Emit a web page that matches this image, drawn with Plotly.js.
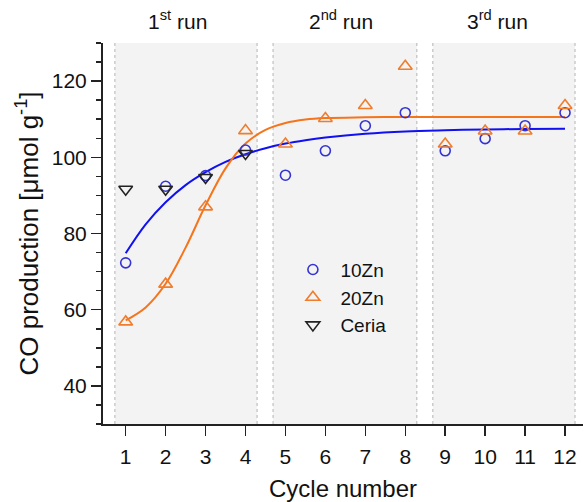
<!DOCTYPE html>
<html><head><meta charset="utf-8">
<script src="https://cdn.plot.ly/plotly-3.0.1.min.js"></script>
<style>html,body{margin:0;padding:0;background:#fff}#chart{width:584px;height:502px}</style>
</head><body><div id="chart"></div>
<script>
// ---- data ----
const cycles = [1,2,3,4,5,6,7,8,9,10,11,12];
const zn10 = [72.3,92.4,95.2,101.9,95.3,101.7,108.3,111.7,101.7,104.9,108.3,111.7];
const zn20 = [56.8,66.7,87.0,107.0,103.5,110.2,113.6,123.9,103.5,106.9,106.9,113.6];
const ceriaCycles = [1,2,3,4];
const ceria = [91.6,91.6,94.7,101.0];
// fitted curves
const fitX  = [1,1.5,2,2.5,3,3.5,4,4.5,5,5.5,6,7,8,9,10,11,12];
const fit10 = [74.8,82.4,88.2,92.7,96.1,98.8,100.8,102.4,103.6,104.5,105.2,106.2,106.8,107.1,107.3,107.45,107.5];
const fit20 = [57.2,60.6,66.8,76.3,87.4,97.1,103.6,107.2,109.0,109.9,110.3,110.5,110.6,110.6,110.6,110.6,110.6];
const xTicks = [1,2,3,4,5,6,7,8,9,10,11,12];
const yTicks = [40,60,80,100,120];
const seriesNames = ['10Zn','20Zn','Ceria'];
const runLabels = ['1<sup>st</sup> run','2<sup>nd</sup> run','3<sup>rd</sup> run'];
const runCenters = [2.3,6.4,10.3];
const panels = [[0.73,4.29],[4.69,8.29],[8.69,12.25]];

const FONT = 'Liberation Sans, Arial, sans-serif';
const BLUE_M = '#3434d4', BLUE_L = '#1010f0';
const ORANGE_M = '#f07c2c', ORANGE_L = '#f5741c';

const traces = [
  {x: fitX, y: fit10, mode:'lines', line:{color:BLUE_L, width:2, shape:'spline'}, showlegend:false, hoverinfo:'skip'},
  {x: fitX, y: fit20, mode:'lines', line:{color:ORANGE_L, width:2, shape:'spline'}, showlegend:false, hoverinfo:'skip'},
  {x: cycles, y: zn10, name: seriesNames[0], mode:'markers',
   marker:{symbol:'circle-open', size:10, color:BLUE_M, line:{width:1.6, color:BLUE_M}}},
  {x: cycles, y: zn20, name: seriesNames[1], mode:'markers',
   marker:{symbol:'triangle-up-open', size:12, color:ORANGE_M, line:{width:1.6, color:ORANGE_M}}},
  {x: ceriaCycles, y: ceria, name: seriesNames[2], mode:'markers',
   marker:{symbol:'triangle-down-open', size:12, color:'#222', line:{width:1.6, color:'#222'}}}
];

const shapes = [];
panels.forEach(p => {
  shapes.push({type:'rect', xref:'x', yref:'paper', x0:p[0], x1:p[1], y0:0, y1:1,
    fillcolor:'#f3f3f3', line:{width:0}, layer:'below'});
  [p[0], p[1]].forEach(v => shapes.push({type:'line', xref:'x', yref:'paper', x0:v, x1:v, y0:0, y1:1,
    line:{color:'#b4b4b4', width:1, dash:'dot'}, layer:'below'}));
});

const annotations = runLabels.map((t,i) => ({
  text:t, x:runCenters[i], xref:'x', y:1, yref:'paper', yanchor:'bottom', yshift:8,
  showarrow:false, font:{family:FONT, size:21, color:'#111'}
}));

const XR = [0.432, 12.45], YR = [30, 130];
const layout = {
  width:584, height:502,
  margin:{l:103, r:1, t:43, b:78},
  paper_bgcolor:'#fff', plot_bgcolor:'#fff',
  font:{family:FONT, color:'#111'},
  showlegend:true,
  legend:{x:0.38, y:0.455, xanchor:'left', yanchor:'top', bgcolor:'rgba(0,0,0,0)',
    font:{family:FONT, size:19, color:'#111'}, itemwidth:45, tracegroupgap:0},
  xaxis:{range:XR, tickvals:xTicks, ticktext:xTicks.map(String), ticks:'outside', ticklen:10, tickwidth:1.5,
    tickcolor:'#222', showline:true, linewidth:2, linecolor:'#222', showgrid:false, zeroline:false,
    ticklabelstandoff:3,
    tickfont:{family:FONT, size:21, color:'#111'},
    title:{text:'Cycle number', font:{family:FONT, size:24, color:'#111'}, standoff:14}},
  xaxis2:{range:XR, overlaying:'x', side:'top', anchor:'y', tickvals:xTicks, ticks:'inside', ticklen:10,
    tickwidth:1.5, tickcolor:'#222', showticklabels:false, showline:true, linewidth:2, linecolor:'#222',
    showgrid:false, zeroline:false},
  yaxis:{range:YR, tickvals:yTicks, ticktext:yTicks.map(String), ticks:'outside', ticklen:10, tickwidth:1.5,
    tickcolor:'#222', showline:true, linewidth:2, linecolor:'#222', showgrid:false, zeroline:false,
    minor:{dtick:5, tick0:0, ticks:'outside', ticklen:5, tickwidth:1.5, tickcolor:'#222', showgrid:false},
    tickfont:{family:FONT, size:21, color:'#111'},
    title:{text:'CO production [μmol g<sup>-1</sup>]', font:{family:FONT, size:26, color:'#111'}, standoff:6}},
  yaxis2:{range:YR, overlaying:'y', side:'right', anchor:'x', tickvals:yTicks, ticks:'inside', ticklen:7,
    tickwidth:1.5, tickcolor:'#222', showticklabels:false, showline:true, linewidth:2, linecolor:'#222',
    showgrid:false, zeroline:false,
    minor:{dtick:5, tick0:0, ticks:'inside', ticklen:4, tickwidth:1.5, tickcolor:'#222', showgrid:false}},
  shapes: shapes,
  annotations: annotations
};

Plotly.newPlot('chart', traces, layout, {displayModeBar:false, staticPlot:true});
</script>
</body></html>
